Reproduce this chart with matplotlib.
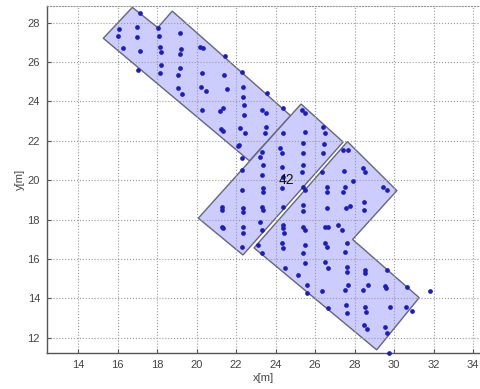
import matplotlib
matplotlib.use("Agg")
import matplotlib.pyplot as plt
from matplotlib.patches import Polygon

plt.rcParams['font.family'] = ['Liberation Sans', 'DejaVu Sans']

# Work-area polygons (x, y in metres)
area_a_x = [15.28, 16.75, 18.04, 18.77, 24.76, 22.68]
area_a_y = [27.21, 28.78, 27.75, 28.59, 23.28, 20.98]

area_b_x = [25.29, 27.42, 22.35, 20.09]
area_b_y = [23.87, 21.94, 16.20, 18.07]

area_c_x = [27.64, 30.14, 27.90, 31.27, 29.12, 22.91]
area_c_y = [21.96, 19.47, 16.99, 14.03, 11.38, 16.56]

# Measurement points
pts_x = [16.05, 16.01, 16.29,
         17.14, 16.99, 17.01, 17.14, 17.06,
         18.05, 18.08, 18.13, 18.18, 18.20, 18.14,
         19.15, 19.19, 19.16, 19.15, 19.06, 19.06, 19.25,
         20.18, 20.33, 20.29, 20.21, 20.48, 20.26,
         21.44, 21.39, 21.53, 21.33, 21.19, 21.24, 21.36,
         22.29, 22.34, 22.37, 22.41, 22.41, 22.20, 22.46,
         23.55, 23.30, 23.52, 23.52, 23.47,
         24.39, 24.39, 22.09,
         22.17, 22.29, 22.29, 22.29, 22.37, 22.37, 22.37, 22.37, 22.29,
         21.28, 21.28, 21.28, 21.36,
         23.30, 23.22, 23.35, 23.30, 23.38, 23.35, 23.30, 23.35, 23.22, 23.30, 23.13, 23.30,
         24.23, 24.31, 24.31, 24.39, 24.31, 24.39, 24.39, 24.39, 24.31, 24.39, 24.43,
         25.33, 25.49, 25.49, 25.41, 25.41, 25.41, 25.33, 25.41, 25.49, 25.41, 25.41, 25.49, 25.49, 25.41, 25.49, 25.37,
         26.42, 26.51, 26.47, 26.42, 26.34, 26.59, 26.59, 26.60, 26.51, 26.63, 26.51, 26.59,
         27.43, 27.69, 27.47, 27.52, 27.94, 27.43, 27.57, 27.77, 27.18, 27.35, 27.60, 27.52,
         28.45, 28.53, 28.46, 28.46,
         29.46, 29.63,
         24.48, 25.15, 25.58, 25.58, 26.51, 26.67, 26.35, 26.67,
         27.60, 27.60, 27.69, 27.52, 27.57, 27.60,
         28.53, 28.53, 28.70, 28.45, 28.53, 28.58, 28.48, 28.62,
         29.63, 29.54, 29.59, 29.80, 29.54, 29.63, 29.76,
         30.64, 30.61, 30.90, 31.82]
pts_y = [27.68, 27.32, 26.73,
         28.48, 27.77, 27.27, 26.56, 25.62,
         27.72, 27.35, 26.77, 26.51, 25.87, 25.45,
         27.50, 26.65, 26.43, 25.68, 25.34, 24.70, 24.36,
         26.75, 26.72, 25.43, 24.72, 24.55, 23.57,
         26.31, 25.33, 24.65, 23.65, 23.52, 22.59, 22.50,
         25.51, 24.72, 24.24, 23.82, 23.31, 22.64, 22.38,
         24.41, 23.57, 23.43, 22.69, 22.41,
         23.65, 22.40, 21.75,
         21.79, 21.11, 20.52, 19.50, 18.57, 18.40, 17.64, 17.30, 16.63,
         18.66, 18.49, 17.64, 17.56,
         21.45, 21.19, 20.77, 20.26, 19.59, 19.42, 18.66, 18.49, 17.89, 17.47, 16.71, 16.29,
         21.62, 21.37, 20.69, 20.18, 19.59, 18.66, 17.73, 17.56, 16.80, 16.54, 17.33,
         23.57, 23.40, 22.46, 21.87, 21.37, 20.77, 20.43, 19.67, 19.50, 18.74, 17.64, 17.47, 16.71, 16.29, 15.78, 18.45,
         22.72, 22.38, 21.84, 21.37, 20.43, 19.67, 19.42, 18.60, 17.64, 17.64, 16.80, 16.62,
         21.53, 21.53, 20.48, 19.67, 19.96, 19.42, 18.57, 18.68, 17.73, 17.47, 16.80, 16.37,
         20.60, 20.43, 18.87, 18.48,
         19.67, 19.50,
         15.53, 15.19, 14.68, 14.26, 15.86, 15.52, 14.38, 13.50,
         15.61, 15.35, 14.68, 14.42, 13.66, 13.24,
         15.44, 15.30, 14.68, 14.42, 13.58, 13.32, 12.65, 12.43,
         15.44, 14.62, 14.50, 13.58, 12.56, 12.22, 11.21,
         14.59, 13.58, 13.37, 14.39]

label_text = "42"
label_pos = (24.55, 20.0)

x_ticks = [14, 16, 18, 20, 22, 24, 26, 28, 30, 32, 34]
y_ticks = [12, 14, 16, 18, 20, 22, 24, 26, 28]

fig = plt.figure(figsize=(4.80, 3.89), dpi=100)
ax = fig.add_axes([47 / 480, 36 / 389, 433 / 480, 347 / 389])

fill_col = '#ccccff'
edge_col = '#66667a'
for px, py in [(area_a_x, area_a_y), (area_b_x, area_b_y), (area_c_x, area_c_y)]:
    ax.add_patch(Polygon(list(zip(px, py)), closed=True, facecolor=fill_col,
                         edgecolor=edge_col, linewidth=1.0, zorder=1))

ax.plot(pts_x, pts_y, linestyle='none', marker='o', markersize=3.4,
        color='#1c1cc0', markeredgewidth=0, zorder=3, clip_on=False)

ax.text(label_pos[0], label_pos[1], label_text, fontsize=10, ha='center',
        va='center', color='#111111', zorder=4)

ax.set_xlim(12.43, 34.35)
ax.set_ylim(11.22, 28.85)
ax.set_xticks(x_ticks)
ax.set_yticks(y_ticks)
ax.set_axisbelow(False)
ax.grid(True, linestyle=':', color='#999999', linewidth=0.8, zorder=2)

ax.spines['right'].set_visible(False)
ax.spines['top'].set_color('#999999')
ax.spines['top'].set_linestyle(':')
ax.spines['top'].set_linewidth(0.8)
for side in ['left', 'bottom']:
    ax.spines[side].set_color('#555555')
    ax.spines[side].set_linewidth(1.0)

ax.tick_params(direction='in', length=3, width=0.8, colors='#555555',
               labelsize=8, labelcolor='#444444', pad=5)
ax.set_xlabel('x[m]', fontsize=8, color='#444444', labelpad=2)
ax.set_ylabel('y[m]', fontsize=8, color='#444444', labelpad=2)

fig.savefig('out.png', dpi=100)
